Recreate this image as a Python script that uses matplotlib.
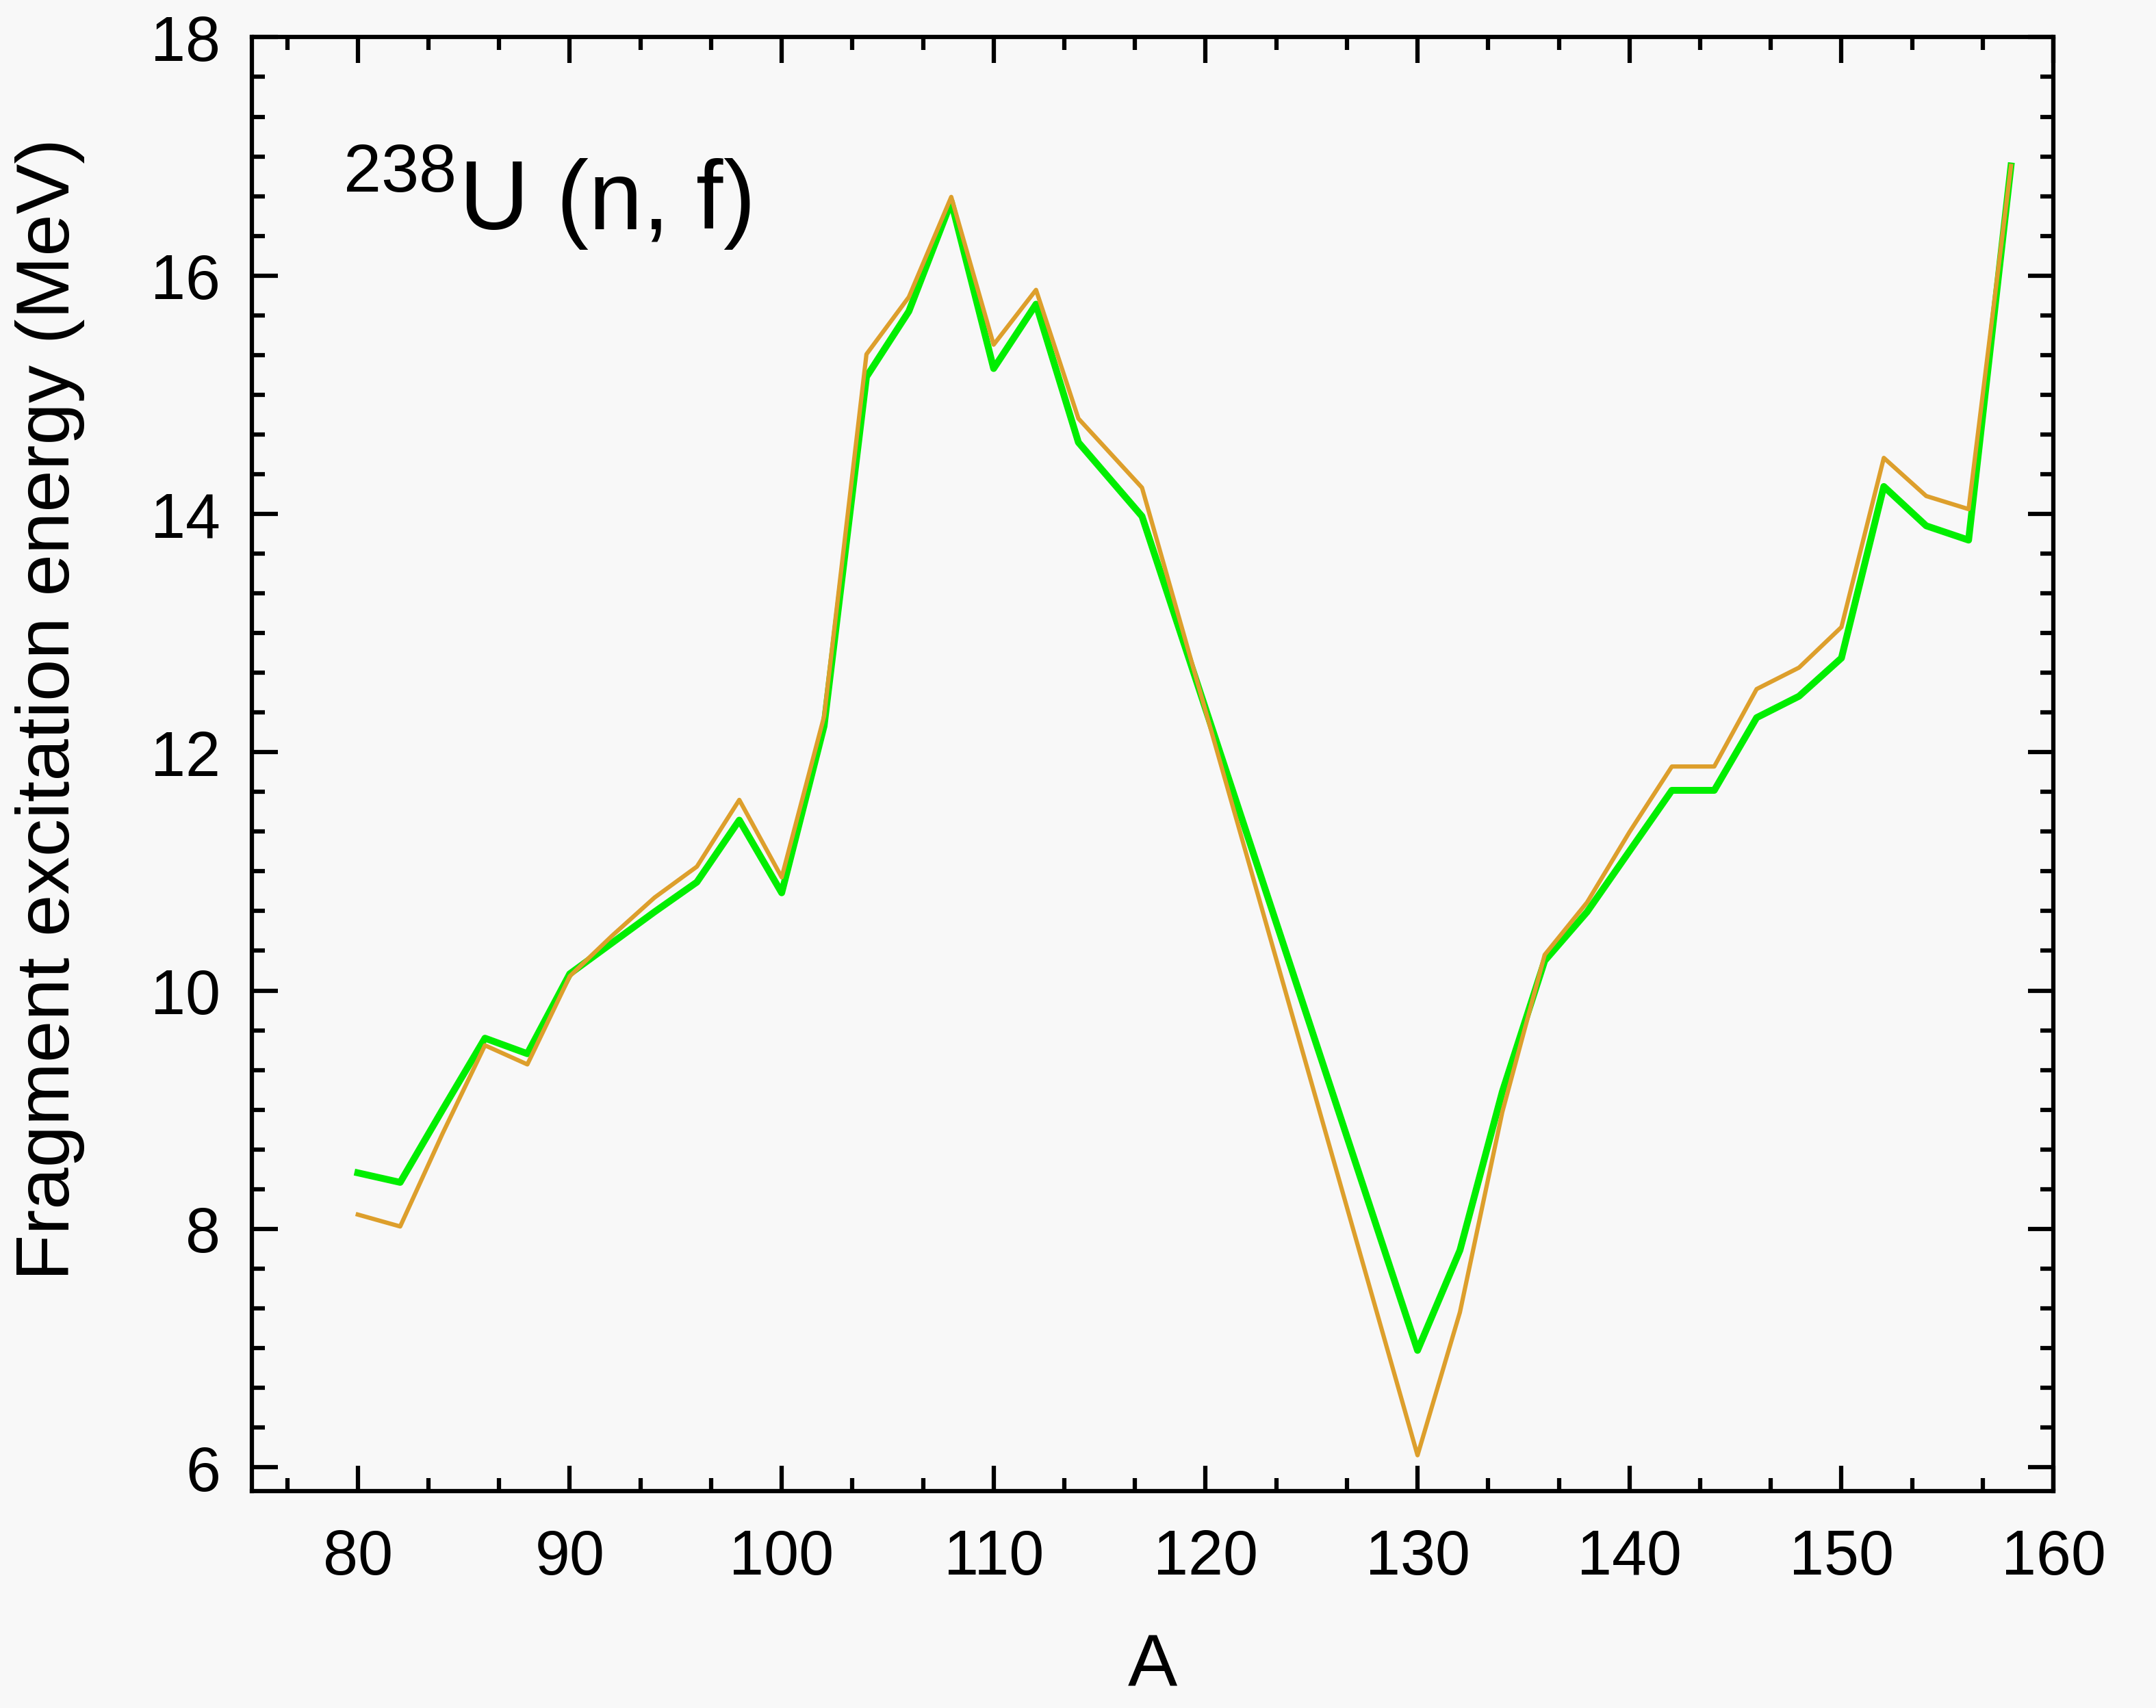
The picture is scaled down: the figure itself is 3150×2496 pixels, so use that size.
import numpy as np
import matplotlib
matplotlib.use("Agg")
import matplotlib.pyplot as plt
from matplotlib.ticker import MultipleLocator

# Fragment excitation energy vs. mass number A, 238U(n,f)
mass_a = [80, 82, 84, 86, 88, 90, 92, 94, 96, 98, 100, 102, 104, 106, 108,
          110, 112, 114, 117, 130, 132, 134, 136, 138, 140, 142, 144, 146,
          148, 150, 152, 154, 156, 158]

e_green = [8.47, 8.39, 9.00, 9.60, 9.47, 10.14, 10.40, 10.66, 10.91, 11.43,
           10.82, 12.22, 15.15, 15.70, 16.62, 15.22, 15.76, 14.60, 13.98,
           6.98, 7.82, 9.15, 10.25, 10.66, 11.17, 11.68, 11.68, 12.29,
           12.47, 12.79, 14.23, 13.90, 13.78, 16.92]

e_orange = [8.12, 8.02, 8.80, 9.54, 9.38, 10.12, 10.46, 10.78, 11.04, 11.60,
            10.95, 12.30, 15.34, 15.82, 16.66, 15.42, 15.88, 14.80, 14.22,
            6.10, 7.30, 8.98, 10.30, 10.74, 11.33, 11.88, 11.88, 12.53,
            12.71, 13.05, 14.47, 14.15, 14.04, 16.92]

plt.rcParams['font.family'] = ['Liberation Sans', 'DejaVu Sans']
plt.rcParams['mathtext.fontset'] = 'custom'
plt.rcParams['mathtext.rm'] = 'Liberation Sans'

bg = '#f8f8f8'
fig = plt.figure(figsize=(10.5, 8.3233), dpi=300, facecolor=bg)
ax = fig.add_axes([0.1168, 0.127, 0.8356, 0.8508])
ax.set_facecolor(bg)

ax.plot(mass_a, e_green, color='#00ee00', lw=2.4, zorder=3)
ax.plot(mass_a, e_orange, color='#dd9f2c', lw=1.5, zorder=4)

ax.set_xlim(75, 160)
ax.set_ylim(5.8, 18)
ax.xaxis.set_major_locator(MultipleLocator(10))
ax.xaxis.set_minor_locator(MultipleLocator(10 / 3))
ax.yaxis.set_major_locator(MultipleLocator(2))
ax.yaxis.set_minor_locator(MultipleLocator(1 / 3))

for s in ax.spines.values():
    s.set_linewidth(1.5)
ax.tick_params(which='both', direction='in', top=True, right=True, width=1.5)
ax.tick_params(which='major', length=9, labelsize=22)
ax.tick_params(axis='x', which='major', pad=13)
ax.tick_params(axis='y', which='major', pad=11)
ax.tick_params(which='minor', length=4.5)

ax.set_xlabel('A', fontsize=26, labelpad=16)
ax.set_ylabel('Fragment excitation energy (MeV)', fontsize=26.5, labelpad=23,
              y=0.538)

ax.text(0.05, 0.868, r'$^{238}$U (n, f)', transform=ax.transAxes,
        fontsize=34, va='baseline', ha='left')

fig.savefig('out.png', dpi=300, facecolor=bg)
